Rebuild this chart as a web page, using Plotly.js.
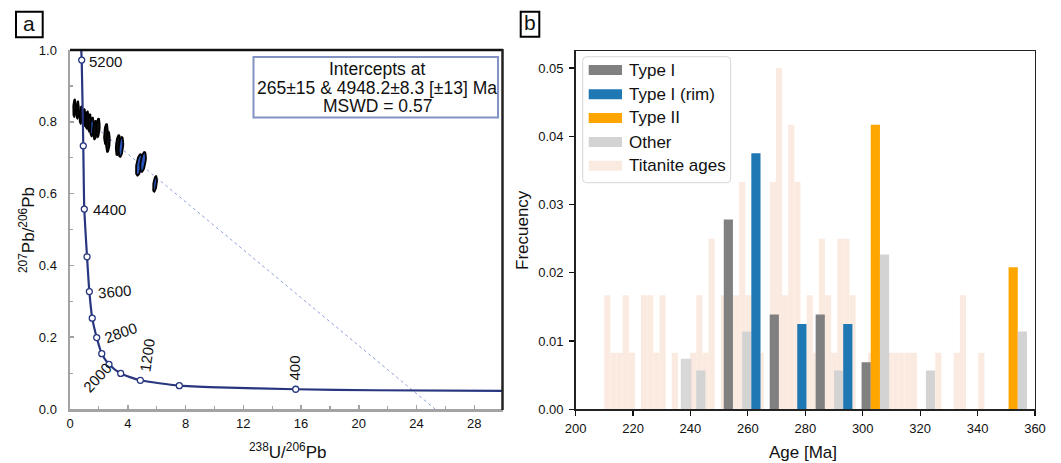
<!DOCTYPE html>
<html><head><meta charset="utf-8">
<script src="https://cdn.plot.ly/plotly-3.0.1.min.js"></script>
<style>html,body{margin:0;padding:0;background:#fff}#chart{width:1061px;height:463px}</style>
</head><body><div id="chart"></div>
<script>
// ---------- Panel a : Tera-Wasserburg concordia ----------
const concordiaAges = [5200,4800,4400,4000,3600,3200,2800,2400,2000,1600,1200,800,400];
const concordiaX = [0.81,0.92,0.99,1.18,1.34,1.54,1.85,2.20,2.70,3.51,4.87,7.57,15.63];
const concordiaY = [0.972,0.733,0.557,0.424,0.327,0.253,0.199,0.154,0.1245,0.099,0.080,0.065,0.055];
const curveX = [0.78,0.81,0.92,0.99,1.18,1.34,1.54,1.85,2.20,2.70,3.51,4.87,7.57,10.3,15.63,21.0,30.0];
const curveY = [1.00,0.972,0.733,0.557,0.424,0.327,0.253,0.199,0.154,0.1245,0.099,0.080,0.065,0.060,0.055,0.0522,0.0505];
const labelledAges = ['5200','4400','3600','2800','2000','1200','400'];
const discordiaX = [0.85, 25.28];
const discordiaY = [0.816, 0.0];
const ellX   = [0.31,0.53,0.76,0.97,1.18,1.35,1.52,1.73,1.94,2.49,2.63,3.32,3.53,4.78,5.06,5.89];
const ellY   = [0.838,0.833,0.819,0.811,0.805,0.797,0.786,0.777,0.783,0.766,0.744,0.735,0.730,0.680,0.688,0.627];
const ellSX  = [0.09,0.09,0.10,0.10,0.11,0.11,0.12,0.12,0.12,0.13,0.13,0.15,0.16,0.22,0.20,0.14];
const ellSY  = [0.024,0.024,0.024,0.024,0.024,0.024,0.026,0.026,0.026,0.028,0.028,0.028,0.028,0.030,0.028,0.022];
const ellRho = [0.2,0.2,0.3,0.3,0.3,0.3,0.3,0.3,0.3,0.3,0.3,0.4,0.4,0.5,0.5,0.5];
const ellBlue= [0,0,0,0,0,0,1,0,0,0,0,0,1,1,1,1];
const interceptText = ['Intercepts at','265\u00b115 & 4948.2\u00b18.3 [\u00b113] Ma','MSWD = 0.57'];

// ---------- Panel b : age histograms ----------
const seriesNames = ['Type I','Type I (rim)','Type II','Other','Titanite ages'];
const typeIAge = [258,274,290,306];
const typeIFreq = [0.0278,0.0139,0.0139,0.0069];
const rimAge = [258,274,290];
const rimFreq = [0.0375,0.0125,0.0125];
const typeIIAge = [306,354];
const typeIIFreq = [0.0417,0.0208];
const otherAge = [242,258,290,306,322,354];
const otherFreq = [0.0057,0.0114,0.0057,0.0227,0.0057,0.0114];
const otherExtraAge = [238.5];
const otherExtraFreq = [0.0074];
const titaniteStart = 210, titaniteBin = 2.135;
const titaniteFreq = [0.0167,0.0083,0.0083,0.0167,0.0083,0,0.0167,0.0167,0.0083,0.0167,
  0,0.0083,0,0,0.0083,0.0167,0.0083,0.025,0,0.0167,
  0.0167,0.0167,0.0333,0.0167,0.0167,0.0083,0,0.0333,0.05,0.0167,
  0.0417,0.0333,0.0083,0.0167,0.0083,0.025,0.0167,0.0083,0.025,0.025,
  0.0167,0,0,0.0083,0.0083,0.0083,0.0083,0.0083,0.0083,0.0083,
  0.0083,0,0,0,0.0083,0,0,0.0083,0.0167,0,
  0,0.0083,0];

// ---------- helpers ----------
const W = 1061, H = 463;
const px = v => v / W, py = v => 1 - v / H;
const FONT = 'Liberation Sans, Arial, sans-serif';
const navy = '#27367f';

const traces = [];
traces.push({x: discordiaX, y: discordiaY, type:'scatter', mode:'lines', xaxis:'x', yaxis:'y',
  line:{color:'#8fa0dc', width:1, dash:'dot'}, hoverinfo:'skip', showlegend:false});
function ellipse(cx, cy, sx, sy, rho) {
  const xs = [], ys = [];
  for (let i = 0; i <= 48; i++) {
    const t = 2 * Math.PI * i / 48;
    xs.push(cx + sx * Math.cos(t));
    ys.push(cy + sy * (rho * Math.cos(t) + Math.sqrt(1 - rho * rho) * Math.sin(t)));
  }
  return [xs, ys];
}
for (let i = 0; i < ellX.length; i++) {
  const [xs, ys] = ellipse(ellX[i], ellY[i], ellSX[i], ellSY[i], ellRho[i]);
  traces.push({x: xs, y: ys, type:'scatter', mode:'lines', fill:'toself', xaxis:'x', yaxis:'y',
    fillcolor: ellBlue[i] ? '#2b55b8' : '#111', line:{color:'#000', width:1.8},
    hoverinfo:'skip', showlegend:false});
}
traces.push({x: curveX, y: curveY, type:'scatter', mode:'lines', xaxis:'x', yaxis:'y',
  line:{color:navy, width:2.2, shape:'spline', smoothing:0.6}, hoverinfo:'skip', showlegend:false});
traces.push({x: concordiaX, y: concordiaY, text: concordiaAges.map(String), type:'scatter', mode:'markers',
  xaxis:'x', yaxis:'y', marker:{size:6, color:'#fff', line:{color:navy, width:1.3}}, showlegend:false});

const barW = 3.2;
traces.push({x: titaniteFreq.map((_, k) => titaniteStart + titaniteBin * (k + 0.5)), y: titaniteFreq,
  type:'bar', width: titaniteBin, xaxis:'x2', yaxis:'y2', name: seriesNames[4],
  marker:{color:'rgb(250,234,224)', line:{width:0}}, showlegend:false});
traces.push({x: typeIAge, y: typeIFreq, type:'bar', width: barW, offset:-6.4, xaxis:'x2', yaxis:'y2',
  name: seriesNames[0], marker:{color:'#808080', line:{width:0}}, showlegend:false});
traces.push({x: typeIIAge, y: typeIIFreq, type:'bar', width: barW, offset:-3.2, xaxis:'x2', yaxis:'y2',
  name: seriesNames[2], marker:{color:'#ffa500', line:{width:0}}, showlegend:false});
traces.push({x: otherAge, y: otherFreq, type:'bar', width: barW, offset:0, xaxis:'x2', yaxis:'y2',
  name: seriesNames[3], marker:{color:'#d3d3d3', line:{width:0}}, showlegend:false});
traces.push({x: otherExtraAge, y: otherExtraFreq, type:'bar', width: 3.7, xaxis:'x2', yaxis:'y2',
  name: seriesNames[3], marker:{color:'#d8d8d8', line:{width:0}}, showlegend:false});
traces.push({x: rimAge, y: rimFreq, type:'bar', width: barW, offset:3.2, xaxis:'x2', yaxis:'y2',
  name: seriesNames[1], marker:{color:'#1f77b4', line:{width:0}}, showlegend:false});

const shapes = [];
const ann = [];
const pann = (x, y, text, size, extra) => ann.push(Object.assign({xref:'paper', yref:'paper', x:px(x), y:py(y), text:text,
  showarrow:false, xanchor:'center', yanchor:'middle', font:{family:FONT, size:size, color:'#111'}}, extra || {}));
shapes.push({type:'line', xref:'paper', yref:'paper', x0:px(70), x1:px(503), y0:py(50), y1:py(50), line:{color:'#111', width:2.5}});
shapes.push({type:'line', xref:'paper', yref:'paper', x0:px(502.5), x1:px(502.5), y0:py(49), y1:py(410), line:{color:'#222', width:2.5}});
shapes.push({type:'rect', xref:'paper', yref:'paper', x0:px(253.5), x1:px(498), y0:py(57), y1:py(117.5),
  line:{color:'#8292c4', width:2}, fillcolor:'#fff'});
const boxLineY = [69, 88, 106];
interceptText.forEach((t, i) => pann(377, boxLineY[i], t, 17.5));
const labelPos = {'5200':[2.49,0.9666,0], '4400':[2.74,0.557,0], '3600':[3.08,0.3287,-5], '2800':[3.53,0.213,-20],
  '2000':[1.90,0.0864,-47], '1200':[5.31,0.150,-82], '400':[15.58,0.1156,-90]};
labelledAges.forEach(a => { const p = labelPos[a];
  ann.push({xref:'x', yref:'y', x:p[0], y:p[1], text:a, textangle:p[2], showarrow:false,
    xanchor:'center', yanchor:'middle', font:{family:FONT, size:15, color:'#111'}}); });
pann(27, 230, '<sup>207</sup>Pb/<sup>206</sup>Pb', 17, {textangle:-90});
pann(287, 451, '<sup>238</sup>U/<sup>206</sup>Pb', 17);
pann(522, 230, 'Frecuency', 17, {textangle:-90});
pann(803, 452, 'Age [Ma]', 17);
shapes.push({type:'rect', xref:'paper', yref:'paper', x0:px(16), x1:px(42.7), y0:py(11.7), y1:py(37.3), line:{color:'#000', width:2}});
shapes.push({type:'rect', xref:'paper', yref:'paper', x0:px(520.7), x1:px(539.3), y0:py(11.7), y1:py(36.7), line:{color:'#000', width:2}});
pann(29.3, 23.5, 'a', 21);
pann(530, 23, 'b', 21);
function roundRect(x0, y0, x1, y1, r) {
  const X = v => px(v), Y = v => py(v);
  return `M${X(x0+r)},${Y(y0)} L${X(x1-r)},${Y(y0)} Q${X(x1)},${Y(y0)} ${X(x1)},${Y(y0+r)} L${X(x1)},${Y(y1-r)} Q${X(x1)},${Y(y1)} ${X(x1-r)},${Y(y1)} L${X(x0+r)},${Y(y1)} Q${X(x0)},${Y(y1)} ${X(x0)},${Y(y1-r)} L${X(x0)},${Y(y0+r)} Q${X(x0)},${Y(y0)} ${X(x0+r)},${Y(y0)} Z`;
}
shapes.push({type:'path', xref:'paper', yref:'paper', path: roundRect(582.7, 56.7, 730.7, 182.7, 4),
  line:{color:'#d6d6d6', width:1}, fillcolor:'rgba(255,255,255,0.85)'});
const legendColors = ['#808080','#1f77b4','#ffa500','#d3d3d3','rgb(250,234,224)'];
const legendY = [70, 94.3, 118, 142, 165.7];
seriesNames.forEach((n, i) => {
  shapes.push({type:'rect', xref:'paper', yref:'paper', x0:px(588.7), x1:px(622), y0:py(legendY[i]-5), y1:py(legendY[i]+5),
    line:{width:0}, fillcolor: legendColors[i]});
  pann(627, legendY[i], n, 17, {xanchor:'left'});
});

const grayAx = '#a3a3a3';
const layout = {
  width: W, height: H, margin:{l:0, r:0, t:0, b:0}, paper_bgcolor:'#fff', plot_bgcolor:'rgba(0,0,0,0)',
  showlegend:false, barmode:'overlay', font:{family:FONT, color:'#111'},
  xaxis:{domain:[px(70), px(503.2)], range:[0,30], tick0:0, dtick:4, ticks:'inside', ticklen:4, tickwidth:1.5, tickcolor:grayAx,
    minor:{dtick:2, ticks:'inside', ticklen:3, tickcolor:grayAx, tickwidth:1.2},
    showline:true, linecolor:grayAx, linewidth:2.5, showgrid:false, zeroline:false, anchor:'y',
    tickfont:{size:13, color:'#111'}, ticklabelstandoff:1},
  yaxis:{domain:[py(409), py(50)], range:[0,1], tick0:0, dtick:0.2, tickformat:'.1f', ticks:'inside', ticklen:4, tickwidth:1.5, tickcolor:grayAx,
    minor:{dtick:0.1, ticks:'inside', ticklen:3, tickcolor:grayAx, tickwidth:1.2},
    showline:true, linecolor:grayAx, linewidth:2.5, showgrid:false, zeroline:false, anchor:'x',
    tickfont:{size:13, color:'#111'}, ticklabelstandoff:8},
  xaxis2:{domain:[px(575.6), px(1035)], range:[200,360], tick0:200, dtick:20, ticks:'outside', ticklen:5, tickwidth:1.2, tickcolor:'#111',
    showline:true, mirror:true, linecolor:'#222', linewidth:1.4, showgrid:false, zeroline:false, anchor:'y2',
    tickfont:{size:13, color:'#111'}, ticklabelstandoff:2},
  yaxis2:{domain:[py(409.3), py(51)], range:[0,0.0525], tick0:0, dtick:0.01, tickformat:'.2f', ticks:'outside', ticklen:5, tickwidth:1.2, tickcolor:'#111',
    showline:true, mirror:true, linecolor:'#222', linewidth:1.4, showgrid:false, zeroline:false, anchor:'x2',
    tickfont:{size:13, color:'#111'}, ticklabelstandoff:3},
  shapes: shapes, annotations: ann
};
Plotly.newPlot('chart', traces, layout, {displayModeBar:false, staticPlot:true});
</script></body></html>
